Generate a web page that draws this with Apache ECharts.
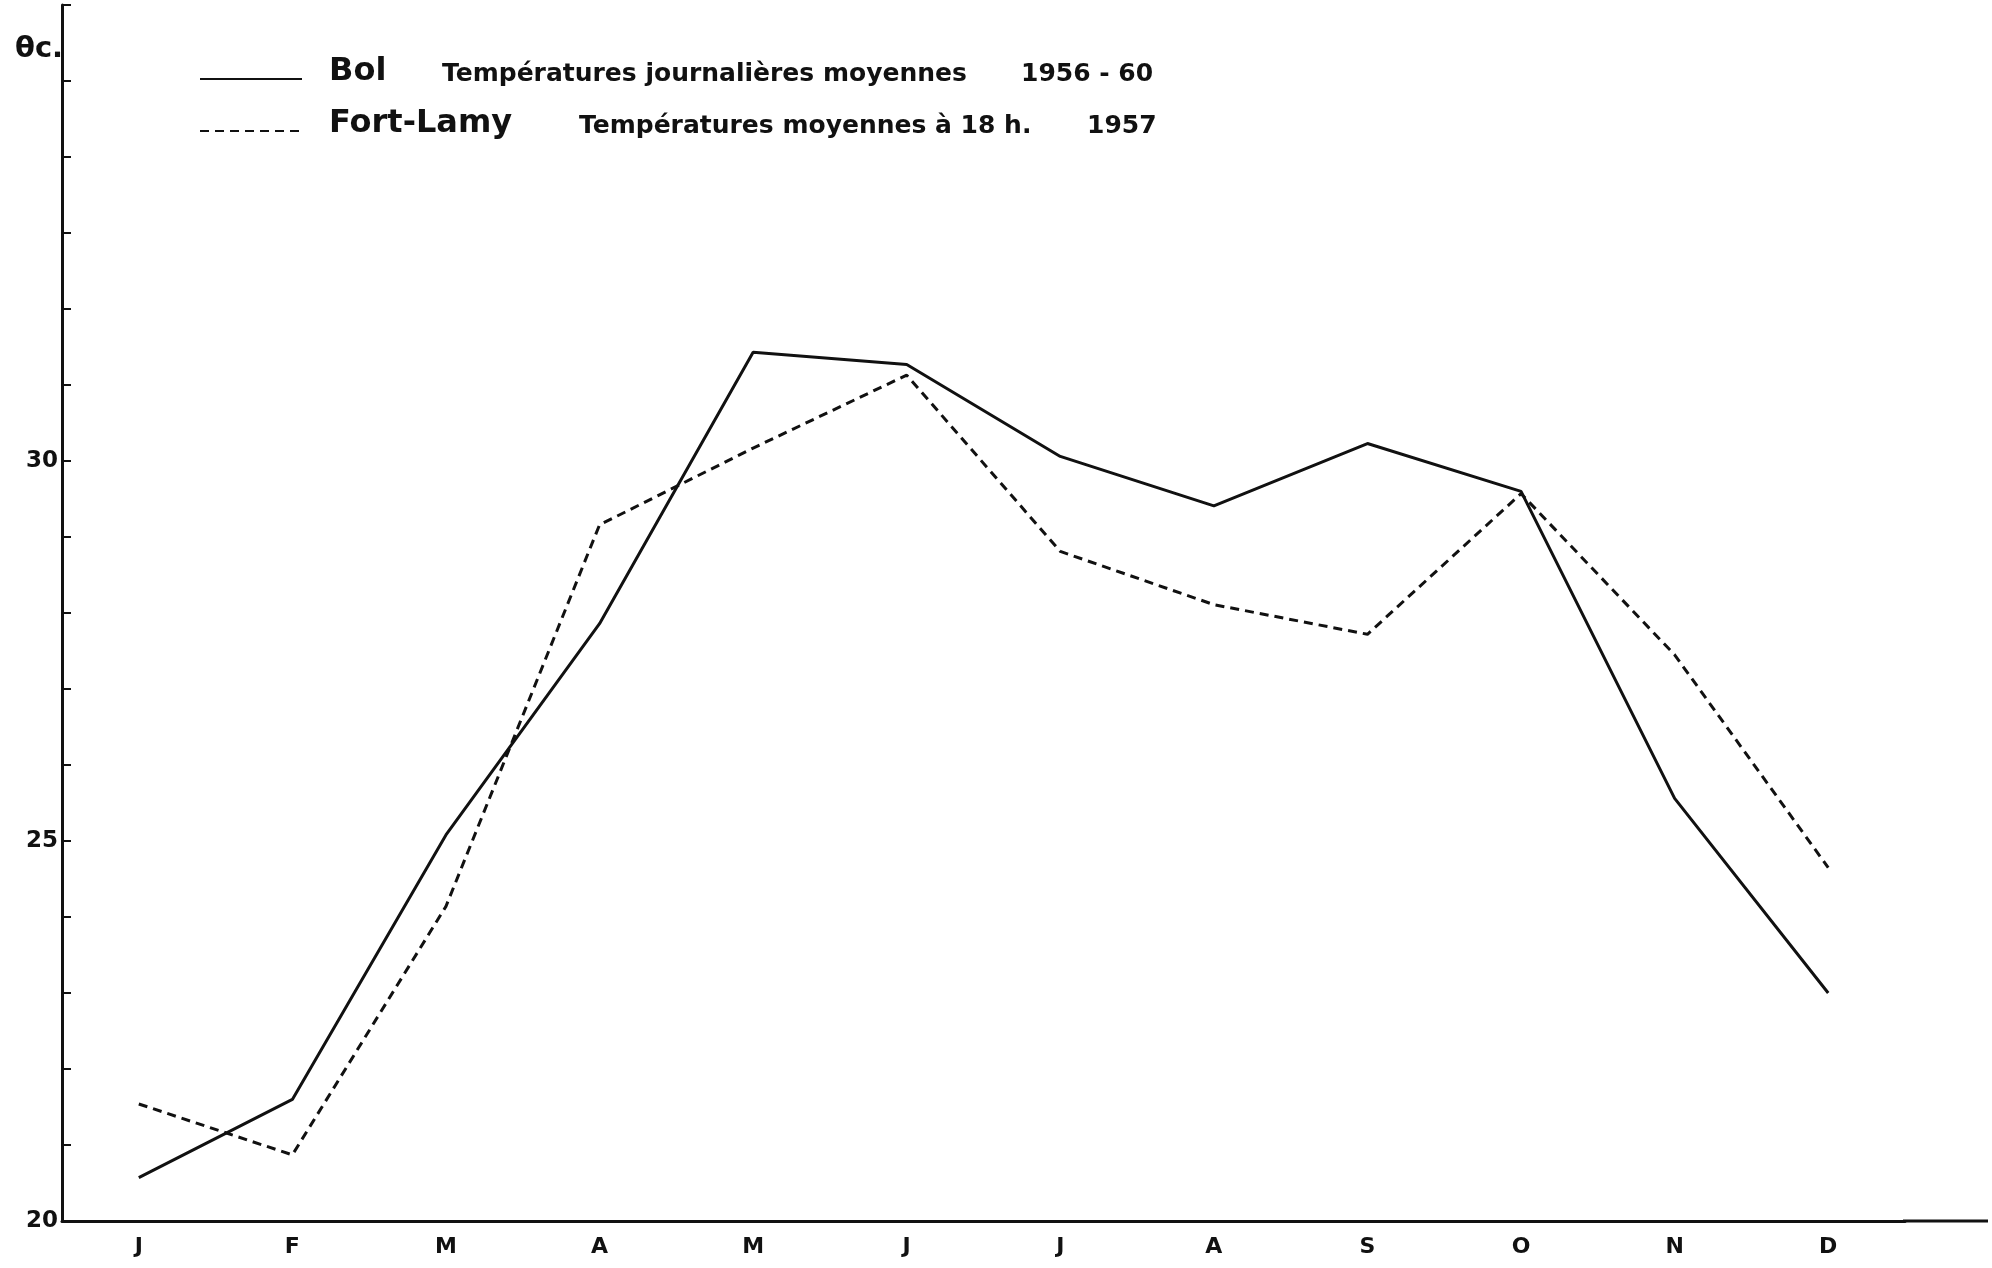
<!DOCTYPE html>
<html>
<head>
<meta charset="utf-8">
<title>Bol / Fort-Lamy</title>
<script src="https://cdn.jsdelivr.net/npm/echarts@6/dist/echarts.min.js"></script>
<style>
  html, body { margin: 0; padding: 0; background: #fff; }
  #chart { width: 1992px; height: 1268px; }
</style>
</head>
<body>
<div id="chart"></div>
<script>
// mois
const months = ['J', 'F', 'M', 'A', 'M', 'J', 'J', 'A', 'S', 'O', 'N', 'D'];
// Bol : températures journalières moyennes 1956-60
const bolTemps = [20.57, 21.6, 25.08, 27.86, 31.43, 31.27, 30.06, 29.41, 30.23, 29.6, 25.56, 23.0];
// Fort-Lamy : températures moyennes à 18 h, 1957
const fortLamyTemps = [21.54, 20.87, 24.14, 29.16, 30.17, 31.13, 28.81, 28.11, 27.72, 29.57, 27.45, 24.65];
// graduations chiffrées de l'axe des températures
const yTickLabels = [20, 25, 30];

const FONT = '"DejaVu Sans", "Liberation Sans", sans-serif';
const GRID_LEFT = 62, GRID_RIGHT = 87, GRID_BOTTOM = 47, GRID_TOP = 5;

var chart = echarts.init(document.getElementById('chart'), null, { renderer: 'canvas' });

var option = {
  backgroundColor: '#fff',
  animation: false,
  title: {
    text: 'θc.',
    left: 10,
    top: 30,
    textStyle: { fontFamily: FONT, fontSize: 29, fontWeight: 'bold', color: '#111' }
  },
  legend: {
    orient: 'vertical',
    left: 194,
    top: 51,
    itemWidth: 102,
    itemHeight: 30,
    itemGap: 17,
    data: ['Bol', 'Fort-Lamy'],
    itemStyle: { opacity: 0 },
    formatter: function (name) {
      if (name == 'Bol') {
        return '{sp| }{nb|Bol}{d1|Températures journalières moyennes}{y|1956 - 60}';
      }
      return '{sp| }{nf|Fort-Lamy}{d2|Températures moyennes à 18 h.}{y|1957}';
    },
    textStyle: {
      color: '#111',
      fontFamily: FONT,
      padding: [0, 0, 14, 0],
      rich: {
        sp: { width: 22 },
        nb: { width: 113, fontSize: 32, fontWeight: 'bold', fontFamily: FONT, color: '#111' },
        nf: { width: 250, fontSize: 32, fontWeight: 'bold', fontFamily: FONT, color: '#111' },
        d1: { width: 579, fontSize: 25, fontWeight: 'bold', fontFamily: FONT, color: '#111', padding: [4, 0, 0, 0] },
        d2: { width: 508, fontSize: 25, fontWeight: 'bold', fontFamily: FONT, color: '#111', padding: [4, 0, 0, 0] },
        y: { fontSize: 25, fontWeight: 'bold', fontFamily: FONT, color: '#111', padding: [4, 0, 0, 0] }
      }
    }
  },
  grid: {
    left: GRID_LEFT,
    right: GRID_RIGHT,
    top: GRID_TOP,
    bottom: GRID_BOTTOM
  },
  xAxis: {
    type: 'category',
    data: months,
    boundaryGap: true,
    axisLine: { lineStyle: { color: '#111', width: 3 } },
    axisTick: { inside: true, length: 7, lineStyle: { color: '#111', width: 2 } },
    axisLabel: {
      margin: 15,
      fontFamily: FONT,
      fontSize: 22,
      fontWeight: 'bold',
      color: '#111'
    },
    splitLine: { show: false }
  },
  yAxis: {
    type: 'value',
    min: 20,
    max: 36,
    interval: 1,
    axisLine: { show: true, lineStyle: { color: '#111', width: 3 } },
    axisTick: { show: true, inside: true, length: 9, lineStyle: { color: '#111', width: 2 } },
    axisLabel: {
      margin: 4,
      fontFamily: FONT,
      fontSize: 23,
      fontWeight: 'bold',
      color: '#111',
      formatter: function (v) {
        return yTickLabels.indexOf(v) >= 0 ? String(v) : '';
      }
    },
    splitLine: { show: false }
  },
  series: [
    {
      name: 'Bol',
      type: 'line',
      data: bolTemps,
      symbol: 'none',
      lineStyle: { color: '#111', width: 3, type: 'solid' },
      itemStyle: { color: '#111' }
    },
    {
      name: 'Fort-Lamy',
      type: 'line',
      data: fortLamyTemps,
      symbol: 'none',
      lineStyle: { color: '#111', width: 3, type: [9, 6] },
      itemStyle: { color: '#111' }
    }
  ],
  // prolongement de l'axe des mois au-delà de décembre
  graphic: [
    {
      type: 'line',
      shape: {
        x1: 1992 - GRID_RIGHT - 2,
        y1: 1268 - GRID_BOTTOM,
        x2: 1988,
        y2: 1268 - GRID_BOTTOM
      },
      style: { stroke: '#111', lineWidth: 3 }
    }
  ]
};

chart.setOption(option);
</script>
</body>
</html>
